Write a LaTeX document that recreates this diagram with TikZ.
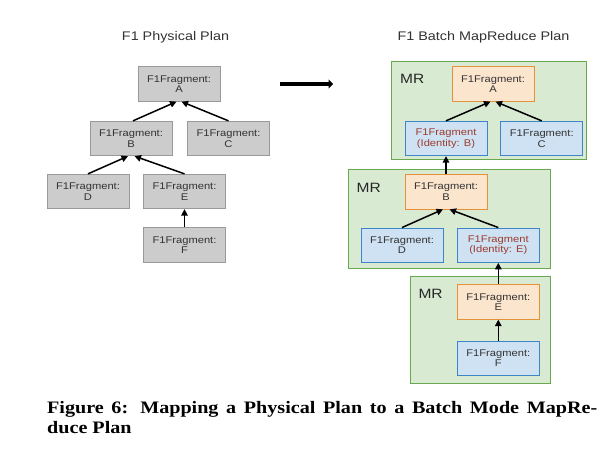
\documentclass[tikz,border=0pt]{standalone}
\usepackage{fontspec}
\setmainfont{Liberation Sans}[FakeStretch=1.15]
\newfontfamily\capfont{Liberation Serif}[FakeStretch=1.15]
\usetikzlibrary{arrows.meta}
\definecolor{grayfill}{HTML}{CCCCCC}
\definecolor{graybd}{HTML}{999999}
\definecolor{orangefill}{HTML}{FCE5CD}
\definecolor{orangebd}{HTML}{E69138}
\definecolor{bluefill}{HTML}{CFE2F3}
\definecolor{bluebd}{HTML}{3D85C6}
\definecolor{greenfill}{HTML}{D9EAD3}
\definecolor{greenbd}{HTML}{6AA84F}
\definecolor{idred}{HTML}{9C3B2E}
\definecolor{txtgray}{HTML}{333333}
\begin{document}
\begin{tikzpicture}[x=1pt,y=-1pt,
  frag/.style={minimum width=82pt,minimum height=34.5pt,inner sep=0pt,align=center,
    line width=0.8pt,text=txtgray,font=\fontsize{9.7}{10.5}\selectfont},
  gfrag/.style={frag,draw=graybd,fill=grayfill},
  ofrag/.style={frag,draw=orangebd,fill=orangefill},
  bfrag/.style={frag,draw=bluebd,fill=bluefill},
  mrbox/.style={draw=greenbd,fill=greenfill,line width=1pt},
  mrlabel/.style={anchor=west,inner sep=0pt,text=black!85,font=\fontsize{13.5}{15}\selectfont},
  link/.style={-{Triangle[length=6.5pt,width=6.5pt]},line width=1.5pt},
  title/.style={anchor=base,inner sep=0pt,text=txtgray,font=\fontsize{12.5}{14}\selectfont},
  caption/.style={anchor=base west,inner sep=0pt,font=\capfont\bfseries\fontsize{17.5}{20}\selectfont}]
\useasboundingbox (0,0) rectangle (612,465);
% titles
\node[title] (ttlPhys) at (175.5,41) {F1 Physical Plan};
\node[title] (ttlBatch) at (483.5,41) {F1 Batch MapReduce Plan};
% physical plan
\node[gfrag] (A) at (179,84) {F1Fragment:\\A};
\node[gfrag] (B) at (131,138.5) {F1Fragment:\\B};
\node[gfrag] (C) at (228.5,138.5) {F1Fragment:\\C};
\node[gfrag] (D) at (88,191.5) {F1Fragment:\\D};
\node[gfrag] (E) at (184.5,191.5) {F1Fragment:\\E};
\node[gfrag] (F) at (184.5,245) {F1Fragment:\\F};
\draw[link] ([xshift=2pt]B.north) -- ([xshift=-2.5pt]A.south);
\draw[link] (C.north) -- ([xshift=2.5pt]A.south);
\draw[link] (D.north) -- ([xshift=-3pt]B.south);
\draw[link] (E.north) -- ([xshift=3.5pt]B.south);
\draw[link] (F) -- (E);
% mapping arrow
\coordinate (mapL) at (280,84);
\coordinate (mapR) at (333,84);
\draw[line width=4pt,-{Triangle[length=4.5pt,width=9pt]}] (mapL) -- (mapR);
% batch mapreduce plan
\draw[mrbox] (391,62) rectangle (586.5,159.5);
\draw[mrbox] (348.5,169.5) rectangle (550.7,268);
\draw[mrbox] (410,276) rectangle (550,383.5);
\node[mrlabel] (mrA) at (400,78.5) {MR};
\node[mrlabel] (mrB) at (356.5,188.3) {MR};
\node[mrlabel] (mrE) at (418.3,293.8) {MR};
\node[ofrag] (A2) at (493,84) {F1Fragment:\\A};
\node[bfrag,text=idred] (IB) at (446,138.5) {F1Fragment\\(Identity: B)};
\node[bfrag] (C2) at (541.7,138.5) {F1Fragment:\\C};
\node[ofrag] (B2) at (446,191.7) {F1Fragment:\\B};
\node[bfrag] (D2) at (402,245.2) {F1Fragment:\\D};
\node[bfrag,text=idred] (IE) at (498.3,245.2) {F1Fragment\\(Identity: E)};
\node[ofrag] (E2) at (498.3,302) {F1Fragment:\\E};
\node[bfrag] (F2) at (498.3,358.4) {F1Fragment:\\F};
\draw[link] (IB.north) -- ([xshift=-2.5pt]A2.south);
\draw[link] (C2.north) -- ([xshift=2.5pt]A2.south);
\draw[link] (B2) -- (IB);
\draw[link] (D2.north) -- ([xshift=-3pt]B2.south);
\draw[link] (IE.north) -- ([xshift=3.5pt]B2.south);
\draw[link] (E2) -- (IE);
\draw[link] (F2) -- (E2);
% caption
\node[caption] (capA) at (47,413.3)
  {\makebox[550pt][s]{Figure 6:\kern12pt Mapping a Physical Plan to a Batch Mode MapRe-}};
\node[caption] (capB) at (47,433.3) {duce Plan};
\end{tikzpicture}
\end{document}
